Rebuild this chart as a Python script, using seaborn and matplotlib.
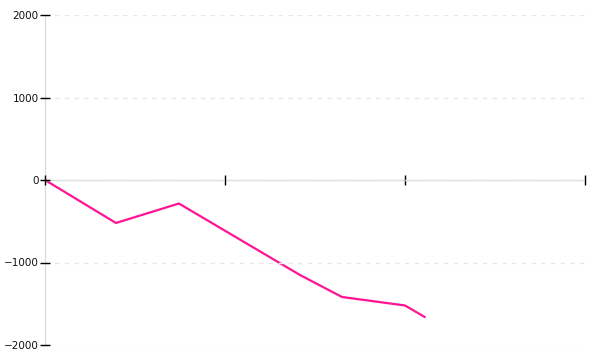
import matplotlib
matplotlib.use("Agg")
import matplotlib.pyplot as plt
import seaborn as sns
import pandas as pd

# data
x_values = [0.0, 0.394, 0.744, 1.0, 1.417, 1.65, 2.0, 2.11]
y_values = [0, -521, -285, -615, -1152, -1418, -1521, -1661]
y_ticks = [-2000, -1000, 0, 1000, 2000]
x_ticks = [0, 1, 2, 3]

df = pd.DataFrame({"x": x_values, "y": y_values})

sns.set_style("white")
plt.rcParams["font.family"] = ["DejaVu Sans"]

fig = plt.figure(figsize=(6, 3.6), dpi=100)
ax = fig.add_axes([45 / 600, 1 - 345 / 360, 540 / 600, 330 / 360])

sns.lineplot(data=df, x="x", y="y", ax=ax, color="#ff1493", linewidth=1.6)

ax.set_xlim(0, 3)
ax.set_ylim(-2000, 2000)
ax.set_xticks(x_ticks)
ax.set_xticklabels([])
ax.set_yticks(y_ticks)
ax.set_yticklabels([str(v).replace("-", "\u2212") for v in y_ticks])
ax.set_xlabel("")
ax.set_ylabel("")

for s in ["top", "right"]:
    ax.spines[s].set_visible(False)
ax.spines["bottom"].set_position(("data", 0))
for s in ["bottom", "left"]:
    ax.spines[s].set_color("#dddddd")
    ax.spines[s].set_linewidth(1)
    ax.spines[s].set_zorder(0.8)

ax.tick_params(axis="both", which="major", bottom=True, left=True,
               direction="inout", length=7, width=1, color="black",
               labelsize=7.5, labelcolor="#111111")
ax.tick_params(axis="y", pad=1)
ax.xaxis.set_zorder(1.5)
ax.yaxis.set_zorder(1.5)

ax.yaxis.grid(True, linestyle=(0, (3, 4)), color="#e6e6e6", linewidth=1)
ax.xaxis.grid(False)
ax.set_axisbelow(False)

fig.savefig("out.png", dpi=100)
